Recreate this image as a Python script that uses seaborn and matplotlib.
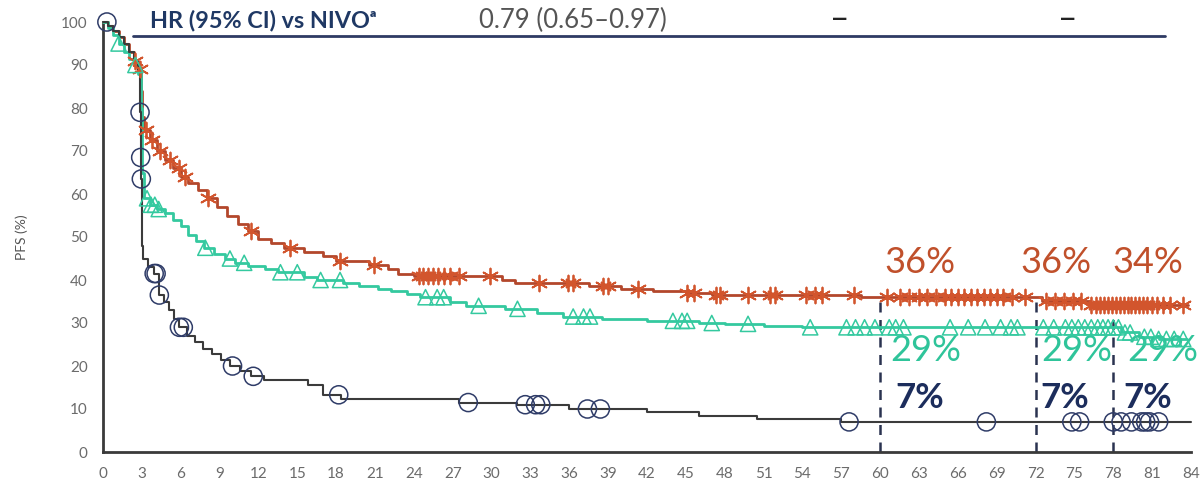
import numpy as np
import pandas as pd
import matplotlib
matplotlib.use("Agg")
import matplotlib.pyplot as plt
import seaborn as sns

# ---- Kaplan-Meier step data (months, PFS %) ----
nivo_ipi_t = [0, 0.4, 0.8, 1.2, 1.6, 2.0, 2.4, 2.7, 2.9, 3.0, 3.2, 3.6, 4.2, 4.8, 5.4, 6.0,
              6.6, 7.3, 8.0, 8.8, 9.6, 10.4, 11.2, 12.0, 13.0, 14.0, 15.5, 17.0, 18.0, 20.5,
              22.0, 22.8, 24.0, 30.8, 31.8, 37.5, 40.0, 42.5, 45.0, 47.0, 58.5, 72.5, 76.2, 83.8]
nivo_ipi_s = [100, 99, 98, 96.5, 95, 93, 91, 89, 84, 78, 75, 72.5, 70, 68, 66, 64,
              62.5, 61, 59, 57, 55, 53, 51.5, 49.5, 48.5, 47.5, 46.5, 45.5, 44.5, 43.5,
              42.5, 41.5, 41, 40, 39.3, 38.5, 38, 37.5, 37, 36.5, 36, 35.2, 34.3, 34.3]

nivo_t = [0, 0.4, 0.8, 1.2, 1.6, 2.0, 2.4, 2.7, 2.9, 3.0, 3.2, 3.6, 4.2, 4.8, 5.4, 6.0,
          6.6, 7.2, 7.8, 8.6, 9.4, 10.2, 11.2, 12.5, 13.5, 15.5, 16.5, 18.5, 19.8, 21.2,
          22.2, 23.5, 24.5, 26.8, 28.0, 31.0, 33.5, 35.5, 38.5, 42.0, 46.0, 48.0, 51.0,
          54.0, 78.6, 80.0, 81.5, 83.7]
nivo_s = [100, 98.5, 97, 95, 93, 91.5, 90, 88, 80, 65, 59, 57.5, 56.5, 55.5, 54, 52.5,
          50.5, 49, 47.5, 46, 45, 44, 43.2, 42.5, 41.8, 40.8, 40, 39.3, 38.7, 38,
          37.5, 36.8, 36, 35, 34, 33.3, 32.4, 31.5, 31, 30.5, 30, 29.8, 29.4,
          29.0, 27.8, 26.8, 26.3, 26.3]

ipi_t = [0, 0.4, 0.8, 1.2, 1.6, 2.0, 2.4, 2.7, 2.85, 2.9, 2.95, 3.02, 3.1, 3.5, 3.9, 4.3,
         4.7, 5.1, 5.5, 5.85, 6.5, 7.1, 7.7, 8.4, 9.1, 9.8, 10.6, 11.4, 12.4, 15.8, 17.0,
         18.4, 27.5, 32.0, 36.0, 42.0, 46.0, 50.5, 57.0, 84.0]
ipi_s = [100, 99, 98, 96.5, 95, 93, 91, 88.5, 79, 68.5, 63.5, 48, 45, 43, 41.5, 36.5,
         35, 33, 31, 29, 27, 25.5, 24, 22.8, 21.5, 20, 18.8, 17.6, 16.7, 15.5, 13.3,
         12.3, 11.5, 11, 10, 9.2, 8.4, 7.7, 7, 7]

# ---- censoring times (months) ----
nivo_ipi_cens = [2.5, 2.86, 3.3, 3.8, 4.4, 5.2, 5.9, 6.3, 8.1, 11.4, 14.4, 18.3, 20.9,
                 24.4, 24.7, 25.1, 25.5, 25.9, 26.3, 26.8, 27.5, 29.9, 33.7, 35.9, 36.3,
                 38.6, 39.0, 41.3, 45.1, 45.6, 47.3, 47.6, 49.8, 51.5, 51.9, 54.3, 55.0,
                 55.5, 58.0, 60.5, 61.5, 62.2, 63.0, 63.6, 64.3, 65.0, 65.5, 66.0, 66.5,
                 67.0, 67.5, 68.0, 68.5, 69.0, 69.5, 70.2, 71.2, 72.8, 73.5, 74.2, 74.9,
                 75.5, 76.3, 76.7, 77.0, 77.3, 77.6, 77.9, 78.2, 78.5, 78.8, 79.1, 79.4,
                 79.7, 80.0, 80.3, 80.6, 81.0, 81.4, 81.8, 82.4, 83.4]
nivo_cens = [1.2, 2.5, 3.4, 3.7, 4.0, 4.3, 7.9, 9.8, 10.9, 13.7, 15.0, 16.8, 18.3,
             24.9, 25.8, 26.3, 29.0, 32.0, 36.3, 37.1, 37.6, 44.0, 44.7, 45.1, 47.0,
             49.8, 54.6, 57.4, 58.1, 58.8, 59.6, 60.7, 61.2, 61.8, 65.4, 66.8, 68.1,
             69.3, 70.1, 70.6, 72.6, 73.4, 74.3, 74.8, 75.3, 75.8, 76.3, 76.8, 77.2,
             77.6, 78.0, 78.4, 78.9, 79.3, 80.4, 80.9, 81.5, 82.1, 82.7, 83.4]
ipi_cens = [0.3, 2.86, 2.91, 2.96, 3.95, 4.1, 4.35, 5.9, 6.2, 10.0, 11.6, 18.2, 28.2,
            32.6, 33.4, 33.8, 37.4, 38.4, 57.6, 68.2, 74.8, 75.4, 78.0, 78.6, 79.4,
            80.2, 80.5, 80.8, 81.5]

landmarks = [60, 72, 78]
x_ticks = list(range(0, 85, 3))
y_ticks = list(range(0, 101, 10))

hr_label = "HR (95% CI) vs NIVO\u1d43"
hr_values = ["0.79 (0.65\u20130.97)", "\u2013", "\u2013"]

RED_LINE, RED = "#b3472c", "#d2552d"
TEAL = "#34c99f"
IPI_LINE, NAVY = "#3b3b3b", "#2f3c68"
LABEL_NAVY = "#1c2d5c"


def step_value(t_arr, s_arr, times):
    """PFS value of a right-continuous step curve at the given times."""
    idx = np.searchsorted(np.asarray(t_arr), np.asarray(times), side="right") - 1
    return np.asarray(s_arr)[np.clip(idx, 0, len(s_arr) - 1)]


sns.set_style("white")
plt.rcParams["font.family"] = ["Lato", "DejaVu Sans"]

fig = plt.figure(figsize=(12.02, 4.88), dpi=100)
ax = fig.add_axes([103 / 1202, 36 / 488, 1088 / 1202, 430 / 488])

arms = [
    (nivo_ipi_t, nivo_ipi_s, nivo_ipi_cens, RED_LINE, RED, (6, 2, 0), 2.0, 130),
    (nivo_t, nivo_s, nivo_cens, TEAL, TEAL, "^", 2.0, 120),
    (ipi_t, ipi_s, ipi_cens, IPI_LINE, NAVY, "o", 1.5, 170),
]

for t_arr, s_arr, cens, lcol, mcol, mk, lw, ms in arms:
    curve = pd.DataFrame({"month": t_arr, "pfs": s_arr})
    sns.lineplot(data=curve, x="month", y="pfs", drawstyle="steps-post",
                 estimator=None, sort=False, color=lcol, lw=lw, ax=ax,
                 clip_on=False, zorder=3)
    marks = pd.DataFrame({"month": cens, "pfs": step_value(t_arr, s_arr, cens)})
    if mk == (6, 2, 0):
        sns.scatterplot(data=marks, x="month", y="pfs", marker=mk, s=ms,
                        color=mcol, linewidth=1.3, ax=ax, clip_on=False, zorder=4)
    else:
        sns.scatterplot(data=marks, x="month", y="pfs", marker=mk, s=ms,
                        facecolor="none", edgecolor=mcol, linewidth=1.1, ax=ax,
                        clip_on=False, zorder=4)

# landmark guides
ax.vlines(landmarks, 0, [35, 35.5, 31], colors="#2a3350", linestyles=(0, (4, 3)),
          lw=1.8, zorder=2)

# landmark PFS labels, derived from the curves
label_dx = {60: (0.3, 0.8, 1.2), 72: (-1.2, 0.4, 0.4), 78: (-0.1, 1.1, 0.8)}
for lm in landmarks:
    dr, dt, di = label_dx[lm]
    r = step_value(nivo_ipi_t, nivo_ipi_s, [lm])[0]
    n = step_value(nivo_t, nivo_s, [lm])[0]
    i = step_value(ipi_t, ipi_s, [lm])[0]
    ax.text(lm + dr, 44.0, f"{r:.0f}%", color="#c0502b", fontsize=26,
            ha="left", va="center")
    ax.text(lm + dt, 23.5, f"{n:.0f}%", color="#2fc49a", fontsize=26,
            ha="left", va="center")
    ax.text(lm + di, 12.6, f"{i:.0f}%", color=LABEL_NAVY, fontsize=25,
            fontweight="bold", ha="left", va="center")

# hazard-ratio header row
ax.text(3.6, 100.4, hr_label, color="#1f3864", fontsize=16.8, fontweight="bold",
        ha="left", va="center", clip_on=False)
ax.text(29.0, 100.4, hr_values[0], color="#555555", fontsize=18.5,
        ha="left", va="center", clip_on=False)
for xpos, txt in zip([56.9, 74.5], hr_values[1:]):
    ax.text(xpos, 100.4, txt, color="#222222", fontsize=24,
            ha="center", va="center", clip_on=False)
ax.plot([2.3, 82.0], [96.7, 96.7], color="#2e3a63", lw=2, clip_on=False, zorder=2)

ax.set_xlim(0, 84)
ax.set_ylim(0, 100)
ax.set_xticks(x_ticks)
ax.set_yticks(y_ticks)
ax.set_xlabel("")
ax.set_ylabel("PFS (%)", fontsize=10, color="#555555", labelpad=24)

for side in ["top", "right"]:
    ax.spines[side].set_visible(False)
for side in ["left", "bottom"]:
    ax.spines[side].set_color("#3a3a3a")
    ax.spines[side].set_linewidth(2)
ax.tick_params(axis="both", direction="out", length=7, width=2, color="#3a3a3a",
               labelcolor="#6b6b6b", labelsize=11, pad=4)

fig.savefig("out.png", dpi=100)
